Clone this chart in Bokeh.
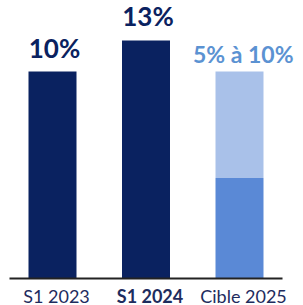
from bokeh.plotting import figure
from bokeh.models import Range1d
from bokeh.core.properties import value
from bokeh.embed import file_html
from bokeh.resources import INLINE

# ---- data ----
categories = ["S1 2023", "S1 2024", "Cible 2025"]
bar_heights = [10, 11.5]                # drawn heights of the two actual bars
target_low = 4.85                        # lower (darker) part of target bar
target_high = 10                         # top of target bar
value_labels = ["10%", "13%", "5% à 10%"]

NAVY = "#0A2260"
LIGHT = "#A9C1E9"
MID = "#5A89D6"
LABEL_BLUE = "#5B92D2"
TEXT = "#1E2C5E"

W, H = 303, 305
px_x = 93.5
px_y = 20.7
x0_px = 52
base_px = 278

p = figure(width=W, height=H, output_backend="svg", toolbar_location=None,
           min_border=0, outline_line_color=None,
           x_range=Range1d(-x0_px / px_x, (W - x0_px) / px_x),
           y_range=Range1d(-(H - base_px) / px_y, base_px / px_y))
p.axis.visible = False
p.grid.visible = False
p.background_fill_color = None
p.border_fill_color = None

xs = list(range(len(categories)))
bw = 48 / px_x

# actual bars
p.vbar(x=xs[:2], top=bar_heights, bottom=0, width=bw, fill_color=NAVY, line_color=None)
# target bar
p.vbar(x=[xs[2]], top=[target_high], bottom=[target_low], width=bw, fill_color=LIGHT, line_color=None)
p.vbar(x=[xs[2]], top=[target_low], bottom=[0], width=bw, fill_color=MID, line_color=None)

# baseline
p.segment(x0=[xs[0] - 0.46], x1=[xs[-1] + 0.46], y0=[0], y1=[0], line_color="#222222", line_width=2)

tops = bar_heights + [target_high]
# value labels
p.text(x=xs[:2], y=tops[:2], text=value_labels[:2], text_align="center", text_baseline="bottom",
       x_offset=2, y_offset=-8, text_font=value("Lato"), text_font_style="bold", text_font_size="26px",
       text_color=NAVY)
p.text(x=[xs[2] + 0.04], y=[tops[2]], text=[value_labels[2]], text_align="center", text_baseline="bottom",
       y_offset=-4, text_font=value("Lato"), text_font_style="bold", text_font_size="23px",
       text_color=LABEL_BLUE)

# category labels
styles = ["normal", "bold", "normal"]
for x, c, s in zip(xs, categories, styles):
    p.text(x=[x], y=[0], text=[c], text_align="center", text_baseline="bottom",
           x_offset=4, y_offset=28, text_font=value("Lato"), text_font_style=s,
           text_font_size="18px", text_color=TEXT)

open("out.html", "w").write(file_html(p, INLINE))
